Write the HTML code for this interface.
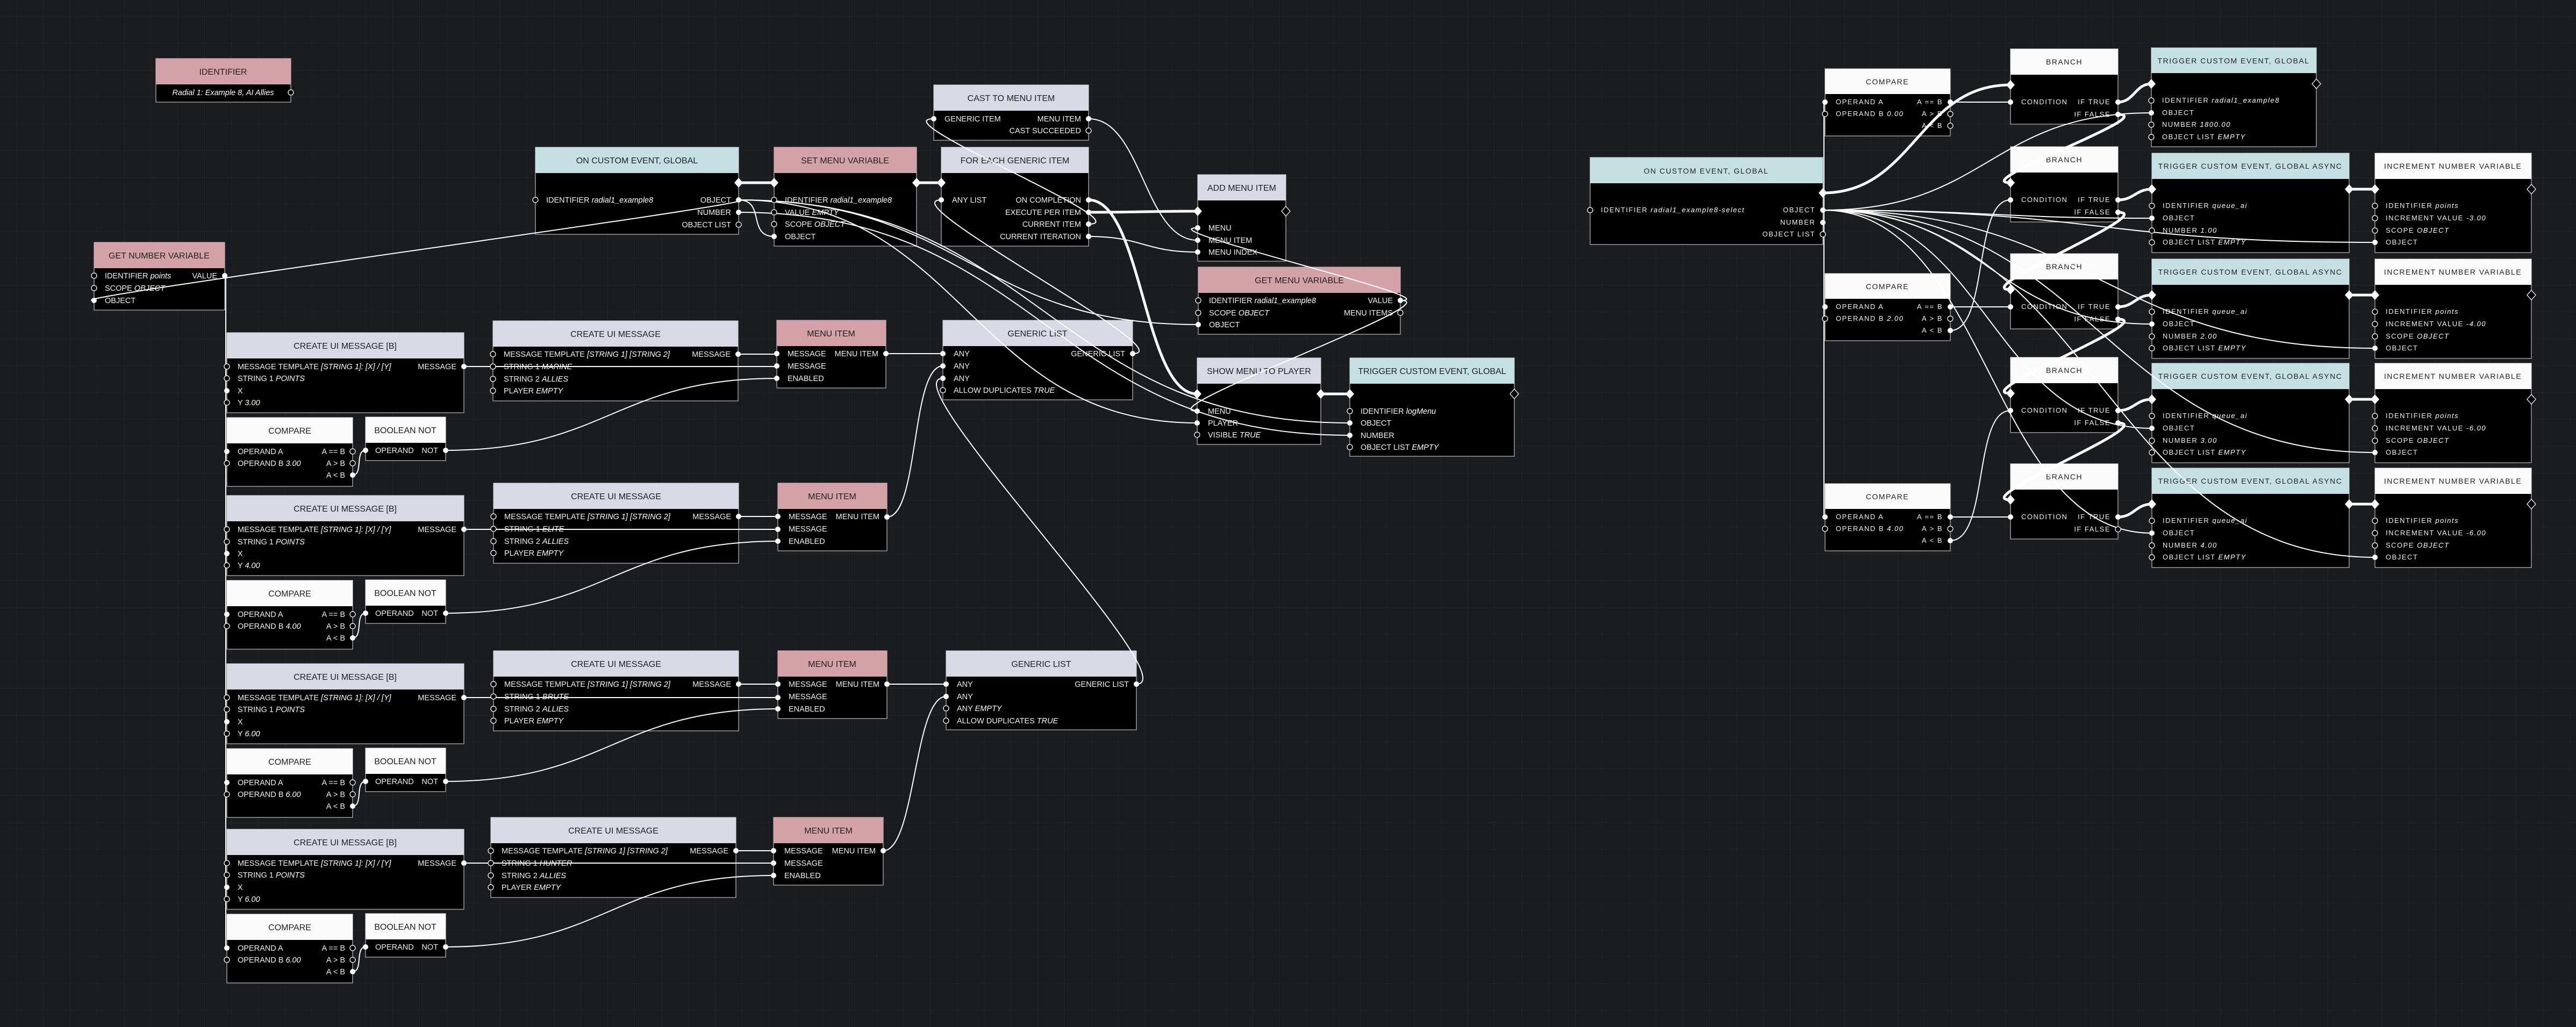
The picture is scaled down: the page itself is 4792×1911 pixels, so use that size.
<!DOCTYPE html>
<html><head><meta charset="utf-8"><style>
html,body{margin:0;padding:0;background:#1b1c1f}
svg{display:block}
.b{fill:#000;stroke:#9a9a9a;stroke-width:1.5}
.h{font-family:"Liberation Sans",sans-serif;font-size:16px;fill:#222;text-anchor:middle}
.hr{font-family:"Liberation Sans",sans-serif;font-size:14px;fill:#222;text-anchor:middle;letter-spacing:1.5px}
.t{font-family:"Liberation Sans",sans-serif;font-size:14.5px;fill:#eee}
.tr{font-family:"Liberation Sans",sans-serif;font-size:13px;fill:#eee;letter-spacing:1.5px}
.e{text-anchor:end}
.i{font-style:italic;fill:#fff}
.w{fill:none;stroke:#fff;stroke-width:2}
.x{fill:none;stroke:#fff;stroke-width:5}
.f{fill:#fff}
.o{fill:#000;stroke:#fff;stroke-width:1.3}
</style></head><body>
<svg width="4792" height="1911" xmlns="http://www.w3.org/2000/svg">
<defs><pattern id="g" width="50" height="50" patternUnits="userSpaceOnUse" x="30" y="30"><path d="M50 0H0V50" fill="none" stroke="#25272b" stroke-width="1.5"/></pattern></defs>
<rect width="4792" height="1911" fill="#1b1c1f"/>
<rect width="4792" height="1911" fill="url(#g)"/>

<!-- ============ LEFT NODES ============ -->
<rect class="b" x="290" y="109" width="251" height="81"/><rect x="290" y="109" width="251" height="48" fill="#d4a1a8"/>
<text class="h" x="415" y="139">IDENTIFIER</text>
<text class="t i" x="415" y="177" text-anchor="middle">Radial 1: Example 8, AI Allies</text>

<rect class="b" x="996" y="274" width="378" height="162"/><rect x="996" y="274" width="378" height="48" fill="#c4e0e3"/>
<text class="h" x="1185" y="304">ON CUSTOM EVENT, GLOBAL</text>
<text class="t" x="1016" y="377">IDENTIFIER <tspan class="i">radial1_example8</tspan></text>
<text class="t e" x="1360" y="377">OBJECT</text><text class="t e" x="1360" y="400">NUMBER</text><text class="t e" x="1360" y="423">OBJECT LIST</text>

<rect class="b" x="175" y="451" width="243" height="126"/><rect x="175" y="451" width="243" height="48" fill="#d4a1a8"/>
<text class="h" x="296" y="481">GET NUMBER VARIABLE</text>
<text class="t" x="195" y="518">IDENTIFIER <tspan class="i">points</tspan></text><text class="t e" x="404" y="518">VALUE</text>
<text class="t" x="195" y="541">SCOPE <tspan class="i">OBJECT</tspan></text>
<text class="t" x="195" y="564">OBJECT</text>

<rect class="b" x="1440" y="274" width="265" height="184"/><rect x="1440" y="274" width="265" height="48" fill="#d4a1a8"/>
<text class="h" x="1572" y="304">SET MENU VARIABLE</text>
<text class="t" x="1460" y="377">IDENTIFIER <tspan class="i">radial1_example8</tspan></text>
<text class="t" x="1460" y="400">VALUE <tspan class="i">EMPTY</tspan></text>
<text class="t" x="1460" y="422">SCOPE <tspan class="i">OBJECT</tspan></text>
<text class="t" x="1460" y="445">OBJECT</text>

<rect class="b" x="1737" y="158" width="288" height="103"/><rect x="1737" y="158" width="288" height="48" fill="#d7d9e4"/>
<text class="h" x="1881" y="188">CAST TO MENU ITEM</text>
<text class="t" x="1757" y="226">GENERIC ITEM</text><text class="t e" x="2011" y="226">MENU ITEM</text>
<text class="t e" x="2011" y="248">CAST SUCCEEDED</text>

<rect class="b" x="1751" y="274" width="274" height="184"/><rect x="1751" y="274" width="274" height="48" fill="#d7d9e4"/>
<text class="h" x="1888" y="304">FOR EACH GENERIC ITEM</text>
<text class="t" x="1771" y="377">ANY LIST</text><text class="t e" x="2011" y="377">ON COMPLETION</text>
<text class="t e" x="2011" y="400">EXECUTE PER ITEM</text><text class="t e" x="2011" y="422">CURRENT ITEM</text><text class="t e" x="2011" y="445">CURRENT ITERATION</text>

<rect class="b" x="2228" y="325" width="164" height="161"/><rect x="2228" y="325" width="164" height="48" fill="#d7d9e4"/>
<text class="h" x="2310" y="355">ADD MENU ITEM</text>
<text class="t" x="2248" y="429">MENU</text><text class="t" x="2248" y="452">MENU ITEM</text><text class="t" x="2248" y="474">MENU INDEX</text>

<rect class="b" x="2229" y="497" width="376" height="125"/><rect x="2229" y="497" width="376" height="48" fill="#d4a1a8"/>
<text class="h" x="2417" y="527">GET MENU VARIABLE</text>
<text class="t" x="2249" y="564">IDENTIFIER <tspan class="i">radial1_example8</tspan></text><text class="t e" x="2591" y="564">VALUE</text>
<text class="t" x="2249" y="587">SCOPE <tspan class="i">OBJECT</tspan></text><text class="t e" x="2591" y="587">MENU ITEMS</text>
<text class="t" x="2249" y="609">OBJECT</text>

<rect class="b" x="1754" y="596" width="353" height="148"/><rect x="1754" y="596" width="353" height="48" fill="#d7d9e4"/>
<text class="h" x="1930" y="626">GENERIC LIST</text>
<text class="t" x="1774" y="663">ANY</text><text class="t e" x="2093" y="663">GENERIC LIST</text>
<text class="t" x="1774" y="686">ANY</text><text class="t" x="1774" y="709">ANY</text>
<text class="t" x="1774" y="731">ALLOW DUPLICATES <tspan class="i">TRUE</tspan></text>

<rect class="b" x="2227" y="666" width="230" height="161"/><rect x="2227" y="666" width="230" height="48" fill="#d7d9e4"/>
<text class="h" x="2342" y="696">SHOW MENU TO PLAYER</text>
<text class="t" x="2247" y="770">MENU</text><text class="t" x="2247" y="792">PLAYER</text><text class="t" x="2247" y="814">VISIBLE <tspan class="i">TRUE</tspan></text>

<rect class="b" x="2511" y="666" width="306" height="183"/><rect x="2511" y="666" width="306" height="48" fill="#c4e0e3"/>
<text class="h" x="2664" y="696">TRIGGER CUSTOM EVENT, GLOBAL</text>
<text class="t" x="2531" y="770">IDENTIFIER <tspan class="i">logMenu</tspan></text><text class="t" x="2531" y="792">OBJECT</text>
<text class="t" x="2531" y="815">NUMBER</text><text class="t" x="2531" y="837">OBJECT LIST <tspan class="i">EMPTY</tspan></text>

<rect class="b" x="1760" y="1211" width="354" height="147"/><rect x="1760" y="1211" width="354" height="48" fill="#d7d9e4"/>
<text class="h" x="1937" y="1241">GENERIC LIST</text>
<text class="t" x="1780" y="1278">ANY</text><text class="t e" x="2100" y="1278">GENERIC LIST</text>
<text class="t" x="1780" y="1301">ANY</text><text class="t" x="1780" y="1323">ANY <tspan class="i">EMPTY</tspan></text>
<text class="t" x="1780" y="1346">ALLOW DUPLICATES <tspan class="i">TRUE</tspan></text>

<!-- G1 -->
<rect class="b" x="422" y="619" width="441" height="149"/><rect x="422" y="619" width="441" height="48" fill="#d7d9e4"/>
<text class="h" x="642" y="649">CREATE UI MESSAGE [B]</text>
<text class="t" x="442" y="687">MESSAGE TEMPLATE <tspan class="i">[STRING 1]: [X] / [Y]</tspan></text><text class="t e" x="849" y="687">MESSAGE</text>
<text class="t" x="442" y="709">STRING 1 <tspan class="i">POINTS</tspan></text><text class="t" x="442" y="732">X</text><text class="t" x="442" y="754">Y <tspan class="i">3.00</tspan></text>
<rect class="b" x="422" y="777" width="234" height="128"/><rect x="422" y="777" width="234" height="48" fill="#fafafa"/>
<text class="h" x="539" y="807">COMPARE</text>
<text class="t" x="442" y="845">OPERAND A</text><text class="t e" x="642" y="845">A == B</text>
<text class="t" x="442" y="867">OPERAND B <tspan class="i">3.00</tspan></text><text class="t e" x="642" y="867">A &gt; B</text><text class="t e" x="642" y="889">A &lt; B</text>
<rect class="b" x="680" y="776" width="149" height="81"/><rect x="680" y="776" width="149" height="48" fill="#fafafa"/>
<text class="h" x="754" y="806">BOOLEAN NOT</text>
<text class="t" x="698" y="843">OPERAND</text><text class="t e" x="815" y="843">NOT</text>
<rect class="b" x="917" y="597" width="456" height="149"/><rect x="917" y="597" width="456" height="48" fill="#d7d9e4"/>
<text class="h" x="1145" y="627">CREATE UI MESSAGE</text>
<text class="t" x="937" y="664">MESSAGE TEMPLATE <tspan class="i">[STRING 1] [STRING 2]</tspan></text><text class="t e" x="1359" y="664">MESSAGE</text>
<text class="t" x="937" y="687">STRING 1 <tspan class="i">MARINE</tspan></text><text class="t" x="937" y="710">STRING 2 <tspan class="i">ALLIES</tspan></text><text class="t" x="937" y="732">PLAYER <tspan class="i">EMPTY</tspan></text>
<rect class="b" x="1445" y="596" width="203" height="126"/><rect x="1445" y="596" width="203" height="48" fill="#d4a1a8"/>
<text class="h" x="1546" y="626">MENU ITEM</text>
<text class="t" x="1465" y="663">MESSAGE</text><text class="t e" x="1634" y="663">MENU ITEM</text>
<text class="t" x="1465" y="686">MESSAGE</text><text class="t" x="1465" y="709">ENABLED</text>

<!-- G2 -->
<rect class="b" x="422" y="922" width="441" height="149"/><rect x="422" y="922" width="441" height="48" fill="#d7d9e4"/>
<text class="h" x="642" y="952">CREATE UI MESSAGE [B]</text>
<text class="t" x="442" y="990">MESSAGE TEMPLATE <tspan class="i">[STRING 1]: [X] / [Y]</tspan></text><text class="t e" x="849" y="990">MESSAGE</text>
<text class="t" x="442" y="1013">STRING 1 <tspan class="i">POINTS</tspan></text><text class="t" x="442" y="1035">X</text><text class="t" x="442" y="1057">Y <tspan class="i">4.00</tspan></text>
<rect class="b" x="422" y="1080" width="234" height="128"/><rect x="422" y="1080" width="234" height="48" fill="#fafafa"/>
<text class="h" x="539" y="1110">COMPARE</text>
<text class="t" x="442" y="1148">OPERAND A</text><text class="t e" x="642" y="1148">A == B</text>
<text class="t" x="442" y="1170">OPERAND B <tspan class="i">4.00</tspan></text><text class="t e" x="642" y="1170">A &gt; B</text><text class="t e" x="642" y="1192">A &lt; B</text>
<rect class="b" x="680" y="1079" width="149" height="81"/><rect x="680" y="1079" width="149" height="48" fill="#fafafa"/>
<text class="h" x="754" y="1109">BOOLEAN NOT</text>
<text class="t" x="698" y="1146">OPERAND</text><text class="t e" x="815" y="1146">NOT</text>
<rect class="b" x="918" y="899" width="456" height="149"/><rect x="918" y="899" width="456" height="48" fill="#d7d9e4"/>
<text class="h" x="1146" y="929">CREATE UI MESSAGE</text>
<text class="t" x="938" y="966">MESSAGE TEMPLATE <tspan class="i">[STRING 1] [STRING 2]</tspan></text><text class="t e" x="1360" y="966">MESSAGE</text>
<text class="t" x="938" y="989">STRING 1 <tspan class="i">ELITE</tspan></text><text class="t" x="938" y="1012">STRING 2 <tspan class="i">ALLIES</tspan></text><text class="t" x="938" y="1034">PLAYER <tspan class="i">EMPTY</tspan></text>
<rect class="b" x="1447" y="899" width="203" height="126"/><rect x="1447" y="899" width="203" height="48" fill="#d4a1a8"/>
<text class="h" x="1548" y="929">MENU ITEM</text>
<text class="t" x="1467" y="966">MESSAGE</text><text class="t e" x="1636" y="966">MENU ITEM</text>
<text class="t" x="1467" y="989">MESSAGE</text><text class="t" x="1467" y="1012">ENABLED</text>

<!-- G3 -->
<rect class="b" x="422" y="1235" width="441" height="149"/><rect x="422" y="1235" width="441" height="48" fill="#d7d9e4"/>
<text class="h" x="642" y="1265">CREATE UI MESSAGE [B]</text>
<text class="t" x="442" y="1303">MESSAGE TEMPLATE <tspan class="i">[STRING 1]: [X] / [Y]</tspan></text><text class="t e" x="849" y="1303">MESSAGE</text>
<text class="t" x="442" y="1325">STRING 1 <tspan class="i">POINTS</tspan></text><text class="t" x="442" y="1348">X</text><text class="t" x="442" y="1370">Y <tspan class="i">6.00</tspan></text>
<rect class="b" x="422" y="1393" width="234" height="128"/><rect x="422" y="1393" width="234" height="48" fill="#fafafa"/>
<text class="h" x="539" y="1423">COMPARE</text>
<text class="t" x="442" y="1461">OPERAND A</text><text class="t e" x="642" y="1461">A == B</text>
<text class="t" x="442" y="1483">OPERAND B <tspan class="i">6.00</tspan></text><text class="t e" x="642" y="1483">A &gt; B</text><text class="t e" x="642" y="1505">A &lt; B</text>
<rect class="b" x="680" y="1392" width="149" height="81"/><rect x="680" y="1392" width="149" height="48" fill="#fafafa"/>
<text class="h" x="754" y="1422">BOOLEAN NOT</text>
<text class="t" x="698" y="1459">OPERAND</text><text class="t e" x="815" y="1459">NOT</text>
<rect class="b" x="918" y="1211" width="456" height="149"/><rect x="918" y="1211" width="456" height="48" fill="#d7d9e4"/>
<text class="h" x="1146" y="1241">CREATE UI MESSAGE</text>
<text class="t" x="938" y="1278">MESSAGE TEMPLATE <tspan class="i">[STRING 1] [STRING 2]</tspan></text><text class="t e" x="1360" y="1278">MESSAGE</text>
<text class="t" x="938" y="1301">STRING 1 <tspan class="i">BRUTE</tspan></text><text class="t" x="938" y="1324">STRING 2 <tspan class="i">ALLIES</tspan></text><text class="t" x="938" y="1346">PLAYER <tspan class="i">EMPTY</tspan></text>
<rect class="b" x="1447" y="1211" width="203" height="126"/><rect x="1447" y="1211" width="203" height="48" fill="#d4a1a8"/>
<text class="h" x="1548" y="1241">MENU ITEM</text>
<text class="t" x="1467" y="1278">MESSAGE</text><text class="t e" x="1636" y="1278">MENU ITEM</text>
<text class="t" x="1467" y="1301">MESSAGE</text><text class="t" x="1467" y="1324">ENABLED</text>

<!-- G4 -->
<rect class="b" x="422" y="1543" width="441" height="149"/><rect x="422" y="1543" width="441" height="48" fill="#d7d9e4"/>
<text class="h" x="642" y="1573">CREATE UI MESSAGE [B]</text>
<text class="t" x="442" y="1611">MESSAGE TEMPLATE <tspan class="i">[STRING 1]: [X] / [Y]</tspan></text><text class="t e" x="849" y="1611">MESSAGE</text>
<text class="t" x="442" y="1633">STRING 1 <tspan class="i">POINTS</tspan></text><text class="t" x="442" y="1656">X</text><text class="t" x="442" y="1678">Y <tspan class="i">6.00</tspan></text>
<rect class="b" x="422" y="1701" width="234" height="128"/><rect x="422" y="1701" width="234" height="48" fill="#fafafa"/>
<text class="h" x="539" y="1731">COMPARE</text>
<text class="t" x="442" y="1769">OPERAND A</text><text class="t e" x="642" y="1769">A == B</text>
<text class="t" x="442" y="1791">OPERAND B <tspan class="i">6.00</tspan></text><text class="t e" x="642" y="1791">A &gt; B</text><text class="t e" x="642" y="1813">A &lt; B</text>
<rect class="b" x="680" y="1700" width="149" height="81"/><rect x="680" y="1700" width="149" height="48" fill="#fafafa"/>
<text class="h" x="754" y="1730">BOOLEAN NOT</text>
<text class="t" x="698" y="1767">OPERAND</text><text class="t e" x="815" y="1767">NOT</text>
<rect class="b" x="913" y="1521" width="456" height="149"/><rect x="913" y="1521" width="456" height="48" fill="#d7d9e4"/>
<text class="h" x="1141" y="1551">CREATE UI MESSAGE</text>
<text class="t" x="933" y="1588">MESSAGE TEMPLATE <tspan class="i">[STRING 1] [STRING 2]</tspan></text><text class="t e" x="1355" y="1588">MESSAGE</text>
<text class="t" x="933" y="1611">STRING 1 <tspan class="i">HUNTER</tspan></text><text class="t" x="933" y="1634">STRING 2 <tspan class="i">ALLIES</tspan></text><text class="t" x="933" y="1656">PLAYER <tspan class="i">EMPTY</tspan></text>
<rect class="b" x="1439" y="1521" width="204" height="126"/><rect x="1439" y="1521" width="204" height="48" fill="#d4a1a8"/>
<text class="h" x="1541" y="1551">MENU ITEM</text>
<text class="t" x="1459" y="1588">MESSAGE</text><text class="t e" x="1629" y="1588">MENU ITEM</text>
<text class="t" x="1459" y="1611">MESSAGE</text><text class="t" x="1459" y="1634">ENABLED</text>

<!-- ============ RIGHT NODES ============ -->
<rect class="b" x="2958" y="293" width="433" height="162"/><rect x="2958" y="293" width="433" height="48" fill="#c4e0e3"/>
<text class="hr" x="3174" y="323">ON CUSTOM EVENT, GLOBAL</text>
<text class="tr" x="2978" y="395">IDENTIFIER <tspan class="i">radial1_example8-select</tspan></text>
<text class="tr e" x="3377" y="395">OBJECT</text><text class="tr e" x="3377" y="418">NUMBER</text><text class="tr e" x="3377" y="440">OBJECT LIST</text>

<rect class="b" x="3395" y="128" width="233" height="125"/><rect x="3395" y="128" width="233" height="47" fill="#fafafa"/>
<text class="hr" x="3511" y="157">COMPARE</text>
<text class="tr" x="3415" y="194">OPERAND A</text><text class="tr e" x="3614" y="194">A == B</text>
<text class="tr" x="3415" y="216">OPERAND B <tspan class="i">0.00</tspan></text><text class="tr e" x="3614" y="216">A &gt; B</text><text class="tr e" x="3614" y="238">A &lt; B</text>
<rect class="b" x="3395" y="509" width="233" height="125"/><rect x="3395" y="509" width="233" height="47" fill="#fafafa"/>
<text class="hr" x="3511" y="538">COMPARE</text>
<text class="tr" x="3415" y="575">OPERAND A</text><text class="tr e" x="3614" y="575">A == B</text>
<text class="tr" x="3415" y="597">OPERAND B <tspan class="i">2.00</tspan></text><text class="tr e" x="3614" y="597">A &gt; B</text><text class="tr e" x="3614" y="619">A &lt; B</text>
<rect class="b" x="3395" y="900" width="233" height="125"/><rect x="3395" y="900" width="233" height="47" fill="#fafafa"/>
<text class="hr" x="3511" y="929">COMPARE</text>
<text class="tr" x="3415" y="966">OPERAND A</text><text class="tr e" x="3614" y="966">A == B</text>
<text class="tr" x="3415" y="988">OPERAND B <tspan class="i">4.00</tspan></text><text class="tr e" x="3614" y="988">A &gt; B</text><text class="tr e" x="3614" y="1010">A &lt; B</text>

<rect class="b" x="3740" y="91" width="200" height="140"/><rect x="3740" y="91" width="200" height="48" fill="#fafafa"/>
<text class="hr" x="3840" y="120">BRANCH</text>
<text class="tr" x="3760" y="194">CONDITION</text><text class="tr e" x="3926" y="194">IF TRUE</text><text class="tr e" x="3926" y="217">IF FALSE</text>
<rect class="b" x="3740" y="273" width="200" height="140"/><rect x="3740" y="273" width="200" height="48" fill="#fafafa"/>
<text class="hr" x="3840" y="302">BRANCH</text>
<text class="tr" x="3760" y="376">CONDITION</text><text class="tr e" x="3926" y="376">IF TRUE</text><text class="tr e" x="3926" y="399">IF FALSE</text>
<rect class="b" x="3740" y="472" width="200" height="140"/><rect x="3740" y="472" width="200" height="48" fill="#fafafa"/>
<text class="hr" x="3840" y="501">BRANCH</text>
<text class="tr" x="3760" y="575">CONDITION</text><text class="tr e" x="3926" y="575">IF TRUE</text><text class="tr e" x="3926" y="598">IF FALSE</text>
<rect class="b" x="3740" y="665" width="200" height="140"/><rect x="3740" y="665" width="200" height="48" fill="#fafafa"/>
<text class="hr" x="3840" y="694">BRANCH</text>
<text class="tr" x="3760" y="768">CONDITION</text><text class="tr e" x="3926" y="768">IF TRUE</text><text class="tr e" x="3926" y="791">IF FALSE</text>
<rect class="b" x="3740" y="863" width="200" height="140"/><rect x="3740" y="863" width="200" height="48" fill="#fafafa"/>
<text class="hr" x="3840" y="892">BRANCH</text>
<text class="tr" x="3760" y="966">CONDITION</text><text class="tr e" x="3926" y="966">IF TRUE</text><text class="tr e" x="3926" y="989">IF FALSE</text>

<rect class="b" x="4002" y="89" width="307" height="184"/><rect x="4002" y="89" width="307" height="47" fill="#c4e0e3"/>
<text class="hr" x="4155" y="118">TRIGGER CUSTOM EVENT, GLOBAL</text>
<text class="tr" x="4022" y="191">IDENTIFIER <tspan class="i">radial1_example8</tspan></text><text class="tr" x="4022" y="214">OBJECT</text>
<text class="tr" x="4022" y="236">NUMBER <tspan class="i">1800.00</tspan></text><text class="tr" x="4022" y="259">OBJECT LIST <tspan class="i">EMPTY</tspan></text>

<rect class="b" x="4003" y="285" width="367" height="185"/><rect x="4003" y="285" width="367" height="48" fill="#c4e0e3"/>
<text class="hr" x="4186" y="314">TRIGGER CUSTOM EVENT, GLOBAL ASYNC</text>
<text class="tr" x="4023" y="387">IDENTIFIER <tspan class="i">queue_ai</tspan></text><text class="tr" x="4023" y="410">OBJECT</text>
<text class="tr" x="4023" y="433">NUMBER <tspan class="i">1.00</tspan></text><text class="tr" x="4023" y="455">OBJECT LIST <tspan class="i">EMPTY</tspan></text>
<rect class="b" x="4418" y="285" width="291" height="185"/><rect x="4418" y="285" width="291" height="48" fill="#fafafa"/>
<text class="hr" x="4563" y="314">INCREMENT NUMBER VARIABLE</text>
<text class="tr" x="4438" y="387">IDENTIFIER <tspan class="i">points</tspan></text><text class="tr" x="4438" y="410">INCREMENT VALUE <tspan class="i">-3.00</tspan></text>
<text class="tr" x="4438" y="433">SCOPE <tspan class="i">OBJECT</tspan></text><text class="tr" x="4438" y="455">OBJECT</text>
<rect class="b" x="4003" y="482" width="367" height="185"/><rect x="4003" y="482" width="367" height="48" fill="#c4e0e3"/>
<text class="hr" x="4186" y="511">TRIGGER CUSTOM EVENT, GLOBAL ASYNC</text>
<text class="tr" x="4023" y="584">IDENTIFIER <tspan class="i">queue_ai</tspan></text><text class="tr" x="4023" y="607">OBJECT</text>
<text class="tr" x="4023" y="630">NUMBER <tspan class="i">2.00</tspan></text><text class="tr" x="4023" y="652">OBJECT LIST <tspan class="i">EMPTY</tspan></text>
<rect class="b" x="4418" y="482" width="291" height="185"/><rect x="4418" y="482" width="291" height="48" fill="#fafafa"/>
<text class="hr" x="4563" y="511">INCREMENT NUMBER VARIABLE</text>
<text class="tr" x="4438" y="584">IDENTIFIER <tspan class="i">points</tspan></text><text class="tr" x="4438" y="607">INCREMENT VALUE <tspan class="i">-4.00</tspan></text>
<text class="tr" x="4438" y="630">SCOPE <tspan class="i">OBJECT</tspan></text><text class="tr" x="4438" y="652">OBJECT</text>
<rect class="b" x="4003" y="676" width="367" height="185"/><rect x="4003" y="676" width="367" height="48" fill="#c4e0e3"/>
<text class="hr" x="4186" y="705">TRIGGER CUSTOM EVENT, GLOBAL ASYNC</text>
<text class="tr" x="4023" y="778">IDENTIFIER <tspan class="i">queue_ai</tspan></text><text class="tr" x="4023" y="801">OBJECT</text>
<text class="tr" x="4023" y="824">NUMBER <tspan class="i">3.00</tspan></text><text class="tr" x="4023" y="846">OBJECT LIST <tspan class="i">EMPTY</tspan></text>
<rect class="b" x="4418" y="676" width="291" height="185"/><rect x="4418" y="676" width="291" height="48" fill="#fafafa"/>
<text class="hr" x="4563" y="705">INCREMENT NUMBER VARIABLE</text>
<text class="tr" x="4438" y="778">IDENTIFIER <tspan class="i">points</tspan></text><text class="tr" x="4438" y="801">INCREMENT VALUE <tspan class="i">-6.00</tspan></text>
<text class="tr" x="4438" y="824">SCOPE <tspan class="i">OBJECT</tspan></text><text class="tr" x="4438" y="846">OBJECT</text>
<rect class="b" x="4003" y="871" width="367" height="185"/><rect x="4003" y="871" width="367" height="48" fill="#c4e0e3"/>
<text class="hr" x="4186" y="900">TRIGGER CUSTOM EVENT, GLOBAL ASYNC</text>
<text class="tr" x="4023" y="973">IDENTIFIER <tspan class="i">queue_ai</tspan></text><text class="tr" x="4023" y="996">OBJECT</text>
<text class="tr" x="4023" y="1019">NUMBER <tspan class="i">4.00</tspan></text><text class="tr" x="4023" y="1041">OBJECT LIST <tspan class="i">EMPTY</tspan></text>
<rect class="b" x="4418" y="871" width="291" height="185"/><rect x="4418" y="871" width="291" height="48" fill="#fafafa"/>
<text class="hr" x="4563" y="900">INCREMENT NUMBER VARIABLE</text>
<text class="tr" x="4438" y="973">IDENTIFIER <tspan class="i">points</tspan></text><text class="tr" x="4438" y="996">INCREMENT VALUE <tspan class="i">-6.00</tspan></text>
<text class="tr" x="4438" y="1019">SCOPE <tspan class="i">OBJECT</tspan></text><text class="tr" x="4438" y="1041">OBJECT</text>

<!-- ============ WIRES ============ -->
<g class="w">
<path d="M420 513V1764"/>
<path d="M1374 372C1424 372 1390 440 1440 440"/>
<path d="M1374 372C1474 372 75 559 175 559"/>
<path d="M1374 372C1794 372 1809 604 2229 604"/>
<path d="M1374 372C1794 372 1807 787 2227 787"/>
<path d="M1374 372C1934 372 1951 787 2511 787"/>
<path d="M1374 395C1934 395 1951 810 2511 810"/>
<path d="M2107 658C2207 658 1651 372 1751 372"/>
<path d="M2025 417C2125 417 1637 221 1737 221"/>
<path d="M2025 221C2125 221 2128 447 2228 447"/>
<path d="M2025 440C2125 440 2128 469 2228 469"/>
<path d="M2605 559C2705 559 2128 424 2228 424"/>
<path d="M2605 559C2705 559 2127 765 2227 765"/>
<path d="M1648 658H1754"/>
<path d="M1650 962C1710 962 1694 681 1754 681"/>
<path d="M2114 1273C2214 1273 1654 704 1754 704"/>
<path d="M1650 1273H1760"/>
<path d="M1643 1583C1703 1583 1700 1296 1760 1296"/>
<path d="M863 682H1445"/><path d="M1373 659H1445"/><path d="M829 838C1129 838 1145 704 1445 704"/><path d="M656 884C676 884 660 838 680 838"/>
<path d="M863 985H1447"/><path d="M1374 961H1447"/><path d="M829 1141C1129 1141 1147 1007 1447 1007"/><path d="M656 1187C676 1187 660 1141 680 1141"/>
<path d="M863 1298H1447"/><path d="M1374 1273H1447"/><path d="M829 1454C1129 1454 1147 1319 1447 1319"/><path d="M656 1500C676 1500 660 1454 680 1454"/>
<path d="M863 1606H1439"/><path d="M1369 1583H1439"/><path d="M829 1762C1129 1762 1139 1629 1439 1629"/><path d="M656 1808C676 1808 660 1762 680 1762"/>
<path d="M3393 190V962"/>
<path d="M3628 190H3740"/>
<path d="M3628 615C3700 615 3670 372 3740 372"/>
<path d="M3628 571H3740"/>
<path d="M3628 1006C3700 1006 3670 764 3740 764"/>
<path d="M3628 962H3740"/>
<path d="M3391 391C3700 391 3700 210 4002 210"/>
<path d="M3391 391C3700 391 3700 406 4003 406"/>
<path d="M3391 391C3700 391 3700 603 4003 603"/>
<path d="M3391 391C3700 391 3700 797 4003 797"/>
<path d="M3391 391C3700 391 3700 992 4003 992"/>
<path d="M3391 391C3900 391 3910 451 4418 451"/>
<path d="M3391 391C3900 391 3910 648 4418 648"/>
<path d="M3391 391C3900 391 3910 842 4418 842"/>
<path d="M3391 391C3900 391 3910 1037 4418 1037"/>
</g>
<g class="x">
<path d="M1374 340H1440"/><path d="M1705 340H1751"/>
<path d="M2025 395C2125 395 2128 393 2228 393"/>
<path d="M2025 372C2125 372 2127 733 2227 733"/>
<path d="M2457 733H2511"/>
<path d="M3391 359C3560 359 3570 158 3740 158"/>
<path d="M3940 213C4020 213 3660 340 3740 340"/>
<path d="M3940 395C4020 395 3660 539 3740 539"/>
<path d="M3940 594C4020 594 3660 732 3740 732"/>
<path d="M3940 787C4020 787 3660 930 3740 930"/>
<path d="M3940 190C3970 190 3972 156 4002 156"/>
<path d="M3940 372C3970 372 3973 352 4003 352"/>
<path d="M3940 571C3970 571 3973 549 4003 549"/>
<path d="M3940 764C3970 764 3973 743 4003 743"/>
<path d="M3940 962C3970 962 3973 938 4003 938"/>
<path d="M4370 352H4418"/><path d="M4370 549H4418"/><path d="M4370 743H4418"/><path d="M4370 938H4418"/>
</g>

<!-- ============ SOCKETS ============ -->
<g class="f">
<circle cx="1374" cy="372" r="5"/><circle cx="1374" cy="395" r="5"/>
<circle cx="418" cy="513" r="5"/><circle cx="175" cy="559" r="5"/>
<circle cx="1440" cy="440" r="5"/>
<circle cx="1737" cy="221" r="5"/><circle cx="2025" cy="221" r="5"/>
<circle cx="1751" cy="372" r="5"/><circle cx="2025" cy="372" r="5"/><circle cx="2025" cy="395" r="5"/><circle cx="2025" cy="417" r="5"/><circle cx="2025" cy="440" r="5"/>
<circle cx="2228" cy="424" r="5"/><circle cx="2228" cy="447" r="5"/><circle cx="2228" cy="469" r="5"/>
<circle cx="2605" cy="559" r="5"/><circle cx="2229" cy="604" r="5"/>
<circle cx="1754" cy="658" r="5"/><circle cx="1754" cy="681" r="5"/><circle cx="1754" cy="704" r="5"/><circle cx="2107" cy="658" r="5"/>
<circle cx="2227" cy="765" r="5"/><circle cx="2227" cy="787" r="5"/>
<circle cx="2511" cy="787" r="5"/><circle cx="2511" cy="810" r="5"/>
<circle cx="1760" cy="1273" r="5"/><circle cx="1760" cy="1296" r="5"/><circle cx="2114" cy="1273" r="5"/>
<circle cx="863" cy="682" r="5"/><circle cx="422" cy="727" r="5"/><circle cx="422" cy="840" r="5"/><circle cx="656" cy="884" r="5"/><circle cx="680" cy="838" r="5"/><circle cx="829" cy="838" r="5"/><circle cx="1373" cy="659" r="5"/><circle cx="1445" cy="658" r="5"/><circle cx="1445" cy="681" r="5"/><circle cx="1445" cy="704" r="5"/><circle cx="1648" cy="658" r="5"/>
<circle cx="863" cy="985" r="5"/><circle cx="422" cy="1030" r="5"/><circle cx="422" cy="1143" r="5"/><circle cx="656" cy="1187" r="5"/><circle cx="680" cy="1141" r="5"/><circle cx="829" cy="1141" r="5"/><circle cx="1374" cy="961" r="5"/><circle cx="1447" cy="961" r="5"/><circle cx="1447" cy="985" r="5"/><circle cx="1447" cy="1007" r="5"/><circle cx="1650" cy="962" r="5"/>
<circle cx="863" cy="1298" r="5"/><circle cx="422" cy="1343" r="5"/><circle cx="422" cy="1456" r="5"/><circle cx="656" cy="1500" r="5"/><circle cx="680" cy="1454" r="5"/><circle cx="829" cy="1454" r="5"/><circle cx="1374" cy="1273" r="5"/><circle cx="1447" cy="1273" r="5"/><circle cx="1447" cy="1298" r="5"/><circle cx="1447" cy="1319" r="5"/><circle cx="1650" cy="1273" r="5"/>
<circle cx="863" cy="1606" r="5"/><circle cx="422" cy="1651" r="5"/><circle cx="422" cy="1764" r="5"/><circle cx="656" cy="1808" r="5"/><circle cx="680" cy="1762" r="5"/><circle cx="829" cy="1762" r="5"/><circle cx="1369" cy="1583" r="5"/><circle cx="1439" cy="1583" r="5"/><circle cx="1439" cy="1606" r="5"/><circle cx="1439" cy="1629" r="5"/><circle cx="1643" cy="1583" r="5"/>
<circle cx="3391" cy="391" r="5"/><circle cx="3391" cy="414" r="5"/>
<circle cx="3395" cy="190" r="5"/><circle cx="3628" cy="190" r="5"/>
<circle cx="3395" cy="571" r="5"/><circle cx="3628" cy="571" r="5"/><circle cx="3628" cy="615" r="5"/>
<circle cx="3395" cy="962" r="5"/><circle cx="3628" cy="962" r="5"/><circle cx="3628" cy="1006" r="5"/>
<circle cx="3740" cy="190" r="5"/><circle cx="3940" cy="190" r="5"/><circle cx="3940" cy="213" r="5"/>
<circle cx="3740" cy="372" r="5"/><circle cx="3940" cy="372" r="5"/><circle cx="3940" cy="395" r="5"/>
<circle cx="3740" cy="571" r="5"/><circle cx="3940" cy="571" r="5"/><circle cx="3940" cy="594" r="5"/>
<circle cx="3740" cy="764" r="5"/><circle cx="3940" cy="764" r="5"/><circle cx="3940" cy="787" r="5"/>
<circle cx="3740" cy="962" r="5"/><circle cx="3940" cy="962" r="5"/>
<circle cx="4002" cy="210" r="5"/>
<circle cx="4003" cy="406" r="5"/><circle cx="4003" cy="603" r="5"/><circle cx="4003" cy="797" r="5"/><circle cx="4003" cy="992" r="5"/>
<circle cx="4418" cy="451" r="5"/><circle cx="4418" cy="648" r="5"/><circle cx="4418" cy="842" r="5"/><circle cx="4418" cy="1037" r="5"/>
<path d="M1374 331l8 9-8 9-8-9z"/><path d="M1440 331l8 9-8 9-8-9z"/><path d="M1705 331l8 9-8 9-8-9z"/><path d="M1751 331l8 9-8 9-8-9z"/>
<path d="M2228 384l8 9-8 9-8-9z"/><path d="M2227 724l8 9-8 9-8-9z"/><path d="M2457 724l8 9-8 9-8-9z"/><path d="M2511 724l8 9-8 9-8-9z"/>
<path d="M3391 350l8 9-8 9-8-9z"/>
<path d="M3740 149l8 9-8 9-8-9z"/><path d="M3740 331l8 9-8 9-8-9z"/><path d="M3740 530l8 9-8 9-8-9z"/><path d="M3740 723l8 9-8 9-8-9z"/><path d="M3740 921l8 9-8 9-8-9z"/>
<path d="M4002 147l8 9-8 9-8-9z"/>
<path d="M4003 343l8 9-8 9-8-9z"/><path d="M4370 343l8 9-8 9-8-9z"/><path d="M4418 343l8 9-8 9-8-9z"/>
<path d="M4003 540l8 9-8 9-8-9z"/><path d="M4370 540l8 9-8 9-8-9z"/><path d="M4418 540l8 9-8 9-8-9z"/>
<path d="M4003 734l8 9-8 9-8-9z"/><path d="M4370 734l8 9-8 9-8-9z"/><path d="M4418 734l8 9-8 9-8-9z"/>
<path d="M4003 929l8 9-8 9-8-9z"/><path d="M4370 929l8 9-8 9-8-9z"/><path d="M4418 929l8 9-8 9-8-9z"/>
</g>
<g class="o">
<circle cx="541" cy="172" r="5"/><circle cx="996" cy="372" r="5"/><circle cx="1374" cy="418" r="5"/>
<circle cx="175" cy="513" r="5"/><circle cx="175" cy="536" r="5"/>
<circle cx="1440" cy="372" r="5"/><circle cx="1440" cy="395" r="5"/><circle cx="1440" cy="417" r="5"/>
<circle cx="2025" cy="243" r="5"/>
<circle cx="2229" cy="559" r="5"/><circle cx="2229" cy="582" r="5"/><circle cx="2605" cy="582" r="5"/>
<circle cx="1754" cy="726" r="5"/><circle cx="2227" cy="809" r="5"/>
<circle cx="2511" cy="765" r="5"/><circle cx="2511" cy="832" r="5"/>
<circle cx="1760" cy="1318" r="5"/><circle cx="1760" cy="1341" r="5"/>
<circle cx="422" cy="682" r="5"/><circle cx="422" cy="704" r="5"/><circle cx="422" cy="749" r="5"/><circle cx="422" cy="862" r="5"/><circle cx="656" cy="840" r="5"/><circle cx="656" cy="862" r="5"/><circle cx="917" cy="659" r="5"/><circle cx="917" cy="682" r="5"/><circle cx="917" cy="705" r="5"/><circle cx="917" cy="727" r="5"/>
<circle cx="422" cy="985" r="5"/><circle cx="422" cy="1008" r="5"/><circle cx="422" cy="1052" r="5"/><circle cx="422" cy="1165" r="5"/><circle cx="656" cy="1143" r="5"/><circle cx="656" cy="1165" r="5"/><circle cx="918" cy="961" r="5"/><circle cx="918" cy="984" r="5"/><circle cx="918" cy="1007" r="5"/><circle cx="918" cy="1029" r="5"/>
<circle cx="422" cy="1298" r="5"/><circle cx="422" cy="1320" r="5"/><circle cx="422" cy="1365" r="5"/><circle cx="422" cy="1478" r="5"/><circle cx="656" cy="1456" r="5"/><circle cx="656" cy="1478" r="5"/><circle cx="918" cy="1273" r="5"/><circle cx="918" cy="1296" r="5"/><circle cx="918" cy="1319" r="5"/><circle cx="918" cy="1341" r="5"/>
<circle cx="422" cy="1606" r="5"/><circle cx="422" cy="1628" r="5"/><circle cx="422" cy="1673" r="5"/><circle cx="422" cy="1786" r="5"/><circle cx="656" cy="1764" r="5"/><circle cx="656" cy="1786" r="5"/><circle cx="913" cy="1583" r="5"/><circle cx="913" cy="1606" r="5"/><circle cx="913" cy="1629" r="5"/><circle cx="913" cy="1651" r="5"/>
<circle cx="2958" cy="391" r="5"/><circle cx="3391" cy="436" r="5"/>
<circle cx="3395" cy="212" r="5"/><circle cx="3628" cy="212" r="5"/><circle cx="3628" cy="234" r="5"/>
<circle cx="3395" cy="593" r="5"/><circle cx="3628" cy="593" r="5"/>
<circle cx="3395" cy="984" r="5"/><circle cx="3628" cy="984" r="5"/>
<circle cx="3940" cy="985" r="5"/>
<circle cx="4002" cy="187" r="5"/><circle cx="4002" cy="232" r="5"/><circle cx="4002" cy="255" r="5"/>
<circle cx="4003" cy="383" r="5"/><circle cx="4003" cy="429" r="5"/><circle cx="4003" cy="451" r="5"/><circle cx="4418" cy="383" r="5"/><circle cx="4418" cy="406" r="5"/><circle cx="4418" cy="429" r="5"/>
<circle cx="4003" cy="580" r="5"/><circle cx="4003" cy="626" r="5"/><circle cx="4003" cy="648" r="5"/><circle cx="4418" cy="580" r="5"/><circle cx="4418" cy="603" r="5"/><circle cx="4418" cy="626" r="5"/>
<circle cx="4003" cy="774" r="5"/><circle cx="4003" cy="820" r="5"/><circle cx="4003" cy="842" r="5"/><circle cx="4418" cy="774" r="5"/><circle cx="4418" cy="797" r="5"/><circle cx="4418" cy="820" r="5"/>
<circle cx="4003" cy="969" r="5"/><circle cx="4003" cy="1015" r="5"/><circle cx="4003" cy="1037" r="5"/><circle cx="4418" cy="969" r="5"/><circle cx="4418" cy="992" r="5"/><circle cx="4418" cy="1015" r="5"/>
<path d="M2392 384l8 9-8 9-8-9z"/><path d="M2817 724l8 9-8 9-8-9z"/><path d="M4309 147l8 9-8 9-8-9z"/>
<path d="M4709 343l8 9-8 9-8-9z"/><path d="M4709 540l8 9-8 9-8-9z"/><path d="M4709 734l8 9-8 9-8-9z"/><path d="M4709 929l8 9-8 9-8-9z"/>
</g>
</svg>
</body></html>
